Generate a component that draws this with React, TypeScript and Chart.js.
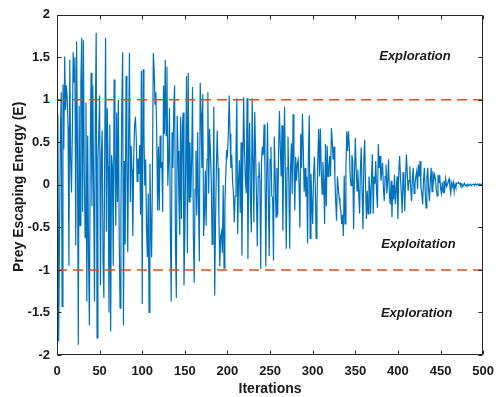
import React, { useEffect, useRef } from "react";
import { Chart, registerables } from "chart.js";

Chart.register(...registerables);

// Prey escaping energy E for iterations 1..500
const energy: number[] = [
  0.83, -1.84, -0.52, 0.61, 1.09, -1.43, 1.18, 0.42, 1.51, 0.88,
  1.17, 1.02, 0.69, -0.95, 1.47, 0.31, -0.09, 0.62, 1.56, 1.21,
  1.5, -0.71, 1.69, 0.44, -1.88, 0.93, -0.48, 1.2, 1.73, -0.32,
  1.7, 0.15, -0.62, 0.97, -1.37, 0.58, -0.84, -1.65, 0.4, 1.32,
  -0.25, 1.17, -0.1, -1.37, 0.85, 1.79, -1.8, 0.3, 0.6, 1.05,
  -1.18, 0.35, 0.64, -0.9, -1.33, 0.42, 1.73, -0.55, 0.9, 0.22,
  -1.5, 0.71, -1.72, 0.35, 0.21, -0.95, 1.24, 0.4, -0.48, 0.85,
  -0.2, 1.0, -0.62, -1.45, -0.3, 0.92, 1.56, -1.65, 0.28, -0.7,
  1.28, 0.35, -0.79, 0.52, 1.55, -0.2, 0.46, 0.18, -0.6, 0.32,
  0.69, 0.8, 0.55, 0.04, 0.31, 0.13, 0.47, -0.35, 1.34, -1.4,
  1.36, 0.6, -0.01, 0.3, -0.5, -0.85, -0.1, -1.5, 0.25, -0.4,
  -0.85, 0.15, 1.55, 1.36, 0.95, 1.09, 0.62, -0.3, 0.45, -0.3,
  0.58, 0.2, 0.27, -0.32, 1.17, 0.6, 1.47, 0.58, 1.39, -0.01,
  0.3, 0.9, -0.55, -1.37, 0.62, 0.2, 0.9, 1.17, -0.7, -1.33,
  0.81, 0.4, -0.17, -0.59, 0.8, -0.4, 0.69, 0.85, -1.18, -0.59,
  0.3, 1.28, -0.8, 1.32, -0.2, 0.5, -0.15, 0.3, 1.15, -0.6,
  -1.15, -0.05, 0.4, -0.36, 0.62, -0.2, -0.9, 1.2, 0.85, 0.2,
  1.07, -0.6, -0.35, 0.17, -0.48, 0.3, 1.09, -0.1, 0.66, 0.4,
  0.04, -0.7, -0.28, 0.92, -1.3, -0.44, 0.2, 0.64, 0.2, -0.4,
  -0.96, -0.6, -0.55, -0.8, 0.0, -0.98, -0.2, 0.1, 0.41, 0.35,
  0.6, 1.05, 0.6, 0.2, 0.35, 0.05, -0.1, -0.44, -0.13, 0.4,
  1.02, -0.58, 0.05, 0.29, -0.33, 0.5, -0.83, 0.2, 1.03, 0.4,
  0.07, -0.1, 1.02, -0.87, 0.2, 0.73, -0.2, -0.56, 1.02, 0.3,
  -0.44, 0.86, 0.4, -0.13, -0.72, 0.1, 0.27, 0.05, -0.99, 0.3,
  0.45, 0.35, 0.71, 0.2, -0.96, 0.1, 0.73, -0.2, -0.84, 0.3,
  0.45, -0.13, -0.15, -0.89, 0.57, 0.1, -0.38, 0.2, -0.36, 0.4,
  0.87, 0.44, 0.1, 0.7, -0.54, 0.3, 0.92, 0.1, -0.75, 0.2,
  0.57, 0.05, -0.75, 0.2, 0.49, -0.11, 0.83, 0.3, -0.3, 0.33,
  0.05, 0.25, 0.3, 0.0, -0.5, 0.6, 0.2, 0.84, 0.4, -0.08,
  0.2, -0.14, 0.1, -0.69, 0.4, 0.82, -0.63, 0.13, -0.2, -0.46,
  0.1, 0.33, 0.0, -0.63, -0.24, 0.3, 0.66, 0.1, 0.66, 0.2,
  -0.11, 0.27, 0.05, -0.46, 0.48, -0.25, 0.46, 0.1, 0.2, 0.34,
  0.1, 0.67, 0.5, 0.3, 0.45, 0.09, -0.2, -0.42, 0.1, -0.03,
  -0.15, -0.23, -0.3, -0.46, -0.35, -0.6, 0.11, -0.46, 0.2, 0.63,
  0.4, 0.63, 0.44, 0.1, -0.01, 0.35, 0.28, -0.52, 0.1, 0.55,
  0.2, -0.07, 0.18, -0.1, -0.34, 0.2, 0.44, -0.1, -0.52, 0.3,
  0.53, 0.0, -0.4, -0.07, -0.34, 0.1, -0.03, -0.34, 0.1, 0.36,
  -0.34, 0.1, 0.01, 0.28, -0.1, -0.27, 0.48, 0.2, 0.34, 0.05,
  0.14, 0.26, -0.05, -0.19, 0.1, 0.24, -0.1, 0.05, 0.3, -0.12,
  -0.23, 0.05, -0.38, 0.0, -0.17, 0.12, -0.23, -0.05, 0.1, -0.4,
  0.15, 0.34, 0.09, -0.1, -0.33, 0.15, 0.01, -0.31, 0.1, 0.36,
  0.12, -0.07, 0.05, 0.22, -0.05, -0.19, 0.08, 0.2, -0.1, 0.01,
  0.1, 0.16, -0.05, 0.24, 0.1, 0.28, -0.03, -0.1, -0.23, 0.05,
  0.2, -0.07, -0.27, 0.1, 0.2, -0.05, -0.19, 0.05, 0.2, -0.08,
  0.16, 0.05, 0.12, 0.07, -0.05, -0.13, 0.12, 0.02, 0.12, -0.04,
  -0.1, 0.03, -0.09, 0.05, -0.04, 0.07, -0.02, 0.0, 0.04, 0.07,
  -0.03, -0.1, 0.02, -0.02, 0.03, -0.08, 0.01, -0.03, 0.02, 0.02,
  0.03, 0.01, 0.02, -0.01, 0.01, -0.02, 0.0, 0.02, -0.01, 0.0,
  -0.01, 0.01, -0.01, 0.0, 0.01, -0.01, 0.0, 0.0, 0.01, -0.01,
  0.01, 0.0, 0.01, 0.0, 0.01, 0.01, 0.0, 0.01, 0.01, 0.01,
];

const thresholdX = [0, 500];
const upperLimit = [1, 1];
const lowerLimit = [-1, -1];

const xTicks = [0, 50, 100, 150, 200, 250, 300, 350, 400, 450, 500];
const yTicks = [-2, -1.5, -1, -0.5, 0, 0.5, 1, 1.5, 2];

const regionLabels = ["Exploration", "Exploitation", "Exploration"];
const regionX = [420, 424, 422];
const regionY = [1.51, -0.7, -1.51];

const xTitle = "Iterations";
const yTitle = "Prey Escaping Energy (E)";

const FONT = '"Liberation Sans", Arial, Helvetica, sans-serif';
const TEXT = "#1a1a1a";
const AXIS = "#262626";

export default function App() {
  const ref = useRef<HTMLCanvasElement>(null);

  useEffect(() => {
    if (!ref.current) return;

    const decor = {
      id: "matlabDecor",
      afterDatasetsDraw(chart: any) {
        const { ctx, chartArea, scales } = chart;
        const { left, right, top, bottom } = chartArea;
        ctx.save();
        ctx.strokeStyle = AXIS;
        ctx.lineWidth = 1;
        const L = Math.round(left) + 0.5;
        const R = Math.round(right) - 0.5;
        const T = Math.round(top) + 0.5;
        const B = Math.round(bottom) - 0.5;
        ctx.beginPath();
        ctx.rect(L, T, R - L, B - T);
        ctx.stroke();
        const tl = 4;
        ctx.beginPath();
        xTicks.forEach((v) => {
          const px = Math.round(scales.x.getPixelForValue(v)) + 0.5;
          ctx.moveTo(px, B);
          ctx.lineTo(px, B - tl);
          ctx.moveTo(px, T);
          ctx.lineTo(px, T + tl);
        });
        yTicks.forEach((v) => {
          const py = Math.round(scales.y.getPixelForValue(v)) + 0.5;
          ctx.moveTo(L, py);
          ctx.lineTo(L + tl, py);
          ctx.moveTo(R, py);
          ctx.lineTo(R - tl, py);
        });
        ctx.stroke();

        ctx.fillStyle = TEXT;
        ctx.font = `italic bold 13px ${FONT}`;
        ctx.textAlign = "center";
        ctx.textBaseline = "middle";
        regionLabels.forEach((t, i) => {
          ctx.fillText(
            t,
            scales.x.getPixelForValue(regionX[i]),
            scales.y.getPixelForValue(regionY[i])
          );
        });

        ctx.font = `bold 14px ${FONT}`;
        ctx.fillText(xTitle, (left + right) / 2, 389);
        ctx.translate(19, (top + bottom) / 2 + 2);
        ctx.rotate(-Math.PI / 2);
        ctx.fillText(yTitle, 0, 0);
        ctx.restore();
      },
    };

    const tickFont = { family: FONT, size: 13, weight: "bold" as const };

    const chart = new Chart(ref.current, {
      type: "line",
      data: {
        datasets: [
          {
            data: energy.map((v, i) => ({ x: i + 1, y: v })),
            borderColor: "#0072BD",
            borderWidth: 1.2,
            pointRadius: 0,
            tension: 0,
            fill: false,
            order: 2,
          },
          {
            data: thresholdX.map((x, i) => ({ x, y: upperLimit[i] })),
            borderColor: "#D95319",
            borderWidth: 1.5,
            borderDash: [10, 6],
            pointRadius: 0,
            fill: false,
            order: 1,
          },
          {
            data: thresholdX.map((x, i) => ({ x, y: lowerLimit[i] })),
            borderColor: "#D95319",
            borderWidth: 1.5,
            borderDash: [10, 6],
            pointRadius: 0,
            fill: false,
            order: 1,
          },
        ],
      },
      options: {
        animation: false,
        responsive: false,
        devicePixelRatio: 1,
        layout: { padding: { top: 13, right: 12, left: 0, bottom: 0 } },
        plugins: {
          legend: { display: false },
          tooltip: { enabled: false },
          title: { display: false },
        },
        scales: {
          x: {
            type: "linear",
            min: 0,
            max: 500,
            grid: { display: false, drawTicks: false, tickLength: 0 },
            border: { display: false },
            afterBuildTicks: (s: any) => {
              s.ticks = xTicks.map((v) => ({ value: v }));
            },
            afterFit: (s: any) => {
              s.height = 42;
            },
            ticks: {
              font: tickFont,
              color: TEXT,
              padding: 9,
              maxRotation: 0,
              autoSkip: false,
              callback: (v: any) => String(v),
            },
          },
          y: {
            type: "linear",
            min: -2,
            max: 2,
            grid: { display: false, drawTicks: false, tickLength: 0 },
            border: { display: false },
            afterBuildTicks: (s: any) => {
              s.ticks = yTicks.map((v) => ({ value: v }));
            },
            afterFit: (s: any) => {
              s.width = 57;
            },
            ticks: {
              font: tickFont,
              color: TEXT,
              padding: 7,
              autoSkip: false,
              callback: (v: any) => String(v),
            },
          },
        },
      },
      plugins: [decor],
    });

    return () => chart.destroy();
  }, []);

  return (
    <div
      style={{
        position: "fixed",
        left: 0,
        top: 0,
        width: 503,
        height: 397,
        background: "#ffffff",
      }}
    >
      <canvas ref={ref} width={503} height={397} style={{ display: "block" }} />
    </div>
  );
}
